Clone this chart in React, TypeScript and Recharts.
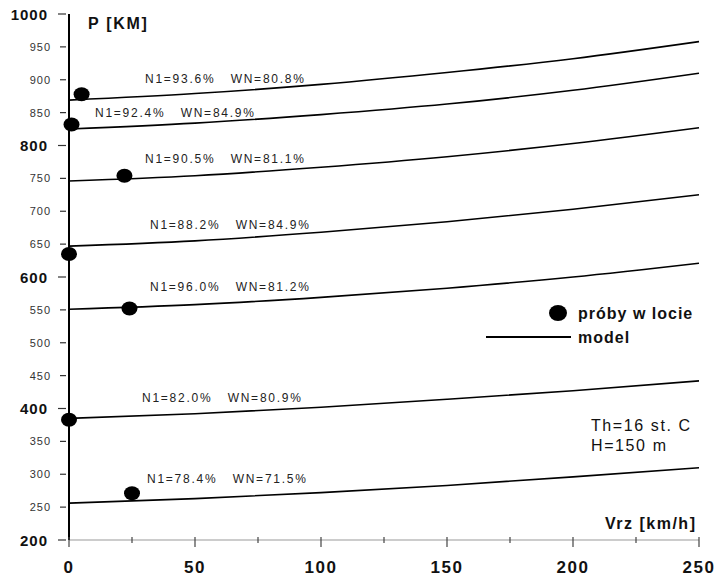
import React from 'react';
import {
  ComposedChart,
  Line,
  Scatter,
  XAxis,
  YAxis,
} from 'recharts';

// speed [km/h] and model power [KM] per engine setting
const speeds = [0, 50, 100, 150, 200, 250];
const model936 = [869, 879, 893, 911, 932, 958];
const model924 = [825, 834, 847, 863, 884, 910];
const model905 = [746, 754, 767, 783, 803, 827];
const model882 = [647, 655, 668, 684, 703, 725];
const model960 = [551, 558, 569, 583, 600, 621];
const model820 = [385, 392, 402, 414, 427, 442];
const model784 = [256, 263, 272, 283, 296, 310];

// flight test samples
const flightSpeed = [5, 1, 22, 0, 24, 0, 25];
const flightPower = [878, 832, 754, 635, 552, 383, 271];

const xTicks = [0, 25, 50, 75, 100, 125, 150, 175, 200, 225, 250];
const yTicks = [200, 250, 300, 350, 400, 450, 500, 550, 600, 650, 700, 750, 800, 850, 900, 950, 1000];

const curveKeys = ['c936', 'c924', 'c905', 'c882', 'c960', 'c820', 'c784'];
const curveValues = [model936, model924, model905, model882, model960, model820, model784];

const curveLabels = [
  { text: 'N1=93.6%   WN=80.8%', x: 145, y: 79 },
  { text: 'N1=92.4%   WN=84.9%', x: 95, y: 113 },
  { text: 'N1=90.5%   WN=81.1%', x: 145, y: 159 },
  { text: 'N1=88.2%   WN=84.9%', x: 150, y: 225 },
  { text: 'N1=96.0%   WN=81.2%', x: 150, y: 287 },
  { text: 'N1=82.0%   WN=80.9%', x: 142, y: 398 },
  { text: 'N1=78.4%   WN=71.5%', x: 147, y: 479 },
];

const modelData = speeds.map((v, i) => {
  const row: Record<string, number> = { v };
  curveKeys.forEach((k, j) => {
    row[k] = curveValues[j][i];
  });
  return row;
});

const flightData = flightSpeed.map((v, i) => ({ v, p: flightPower[i] }));

const FONT = '"Liberation Sans", Arial, sans-serif';
const INK = '#111';

function YTick({ x, y, payload }: any) {
  const major = payload.value % 200 === 0;
  return (
    <g>
      <line
        x1={x - (major ? 11 : 9)}
        x2={x - 3}
        y1={y}
        y2={y}
        stroke="#333"
        strokeWidth={1.2}
      />
      <text
        x={major ? x - 21 : x - 18}
        y={y}
        textAnchor="end"
        dominantBaseline="central"
        fontFamily={FONT}
        fontSize={major ? 15 : 11}
        fontWeight={major ? 'bold' : 'normal'}
        letterSpacing={1}
        fill={major ? INK : '#333'}
      >
        {payload.value}
      </text>
    </g>
  );
}

function XTick({ x, y, payload }: any) {
  const major = payload.value % 50 === 0;
  return (
    <g>
      <line
        x1={x}
        x2={x}
        y1={y - 3}
        y2={y + (major ? 7 : 3)}
        stroke="#444"
        strokeWidth={1.2}
      />
      {major && (
        <text
          x={x}
          y={y + 27}
          textAnchor="middle"
          dominantBaseline="central"
          fontFamily={FONT}
          fontSize={17}
          fontWeight="bold"
          letterSpacing={1.5}
          fill={INK}
        >
          {payload.value}
        </text>
      )}
    </g>
  );
}

function FlightDot({ cx, cy }: any) {
  return <ellipse cx={cx} cy={cy} rx={8} ry={7} fill="#000" />;
}

export default function App() {
  return (
    <div style={{ position: 'relative', width: 717, height: 575, background: '#fff' }}>
      <style>{'body{margin:0}'}</style>
      <ComposedChart
        width={717}
        height={575}
        data={modelData}
        margin={{ top: 14, right: 18, bottom: 0, left: 9 }}
      >
        <XAxis
          dataKey="v"
          type="number"
          domain={[0, 250]}
          ticks={xTicks}
          height={35}
          tickSize={0}
          tickMargin={0}
          tickLine={false}
          axisLine={{ stroke: '#999', strokeWidth: 1 }}
          tick={<XTick />}
          interval={0}
        />
        <YAxis
          type="number"
          domain={[200, 1000]}
          ticks={yTicks}
          width={60}
          tickSize={0}
          tickMargin={0}
          tickLine={false}
          axisLine={{ stroke: '#000', strokeWidth: 2 }}
          tick={<YTick />}
          interval={0}
        />
        {curveKeys.map((k) => (
          <Line
            key={k}
            dataKey={k}
            type="monotone"
            stroke="#000"
            strokeWidth={1.6}
            dot={false}
            activeDot={false}
            isAnimationActive={false}
          />
        ))}
        <Scatter
          data={flightData}
          dataKey="p"
          shape={<FlightDot />}
          isAnimationActive={false}
        />
      </ComposedChart>
      <svg
        width={717}
        height={575}
        style={{ position: 'absolute', left: 0, top: 0, pointerEvents: 'none' }}
        fontFamily={FONT}
      >
        <text x={88} y={23} dominantBaseline="central" fontSize={16} fontWeight="bold" letterSpacing={1.7} fill={INK}>
          P [KM]
        </text>
        {curveLabels.map((l) => (
          <text
            key={l.text}
            x={l.x}
            y={l.y}
            dominantBaseline="central"
            fontSize={12}
            letterSpacing={1.75}
            fill="#222"
            style={{ whiteSpace: 'pre' }}
          >
            {l.text}
          </text>
        ))}
        <ellipse cx={558} cy={313} rx={9} ry={8} fill="#000" />
        <text x={578} y={313} dominantBaseline="central" fontSize={16} fontWeight="bold" letterSpacing={1} fill={INK}>
          próby w locie
        </text>
        <line x1={486} x2={571} y1={337} y2={337} stroke="#000" strokeWidth={1.8} />
        <text x={578} y={337} dominantBaseline="central" fontSize={16} fontWeight="bold" letterSpacing={1} fill={INK}>
          model
        </text>
        <text x={591} y={425} dominantBaseline="central" fontSize={16} letterSpacing={1.6} fill={INK}>
          Th=16 st. C
        </text>
        <text x={591} y={445} dominantBaseline="central" fontSize={16} letterSpacing={1.6} fill={INK}>
          H=150 m
        </text>
        <text x={605} y={523} dominantBaseline="central" fontSize={16} fontWeight="bold" letterSpacing={1.5} fill={INK}>
          Vrz [km/h]
        </text>
      </svg>
    </div>
  );
}
